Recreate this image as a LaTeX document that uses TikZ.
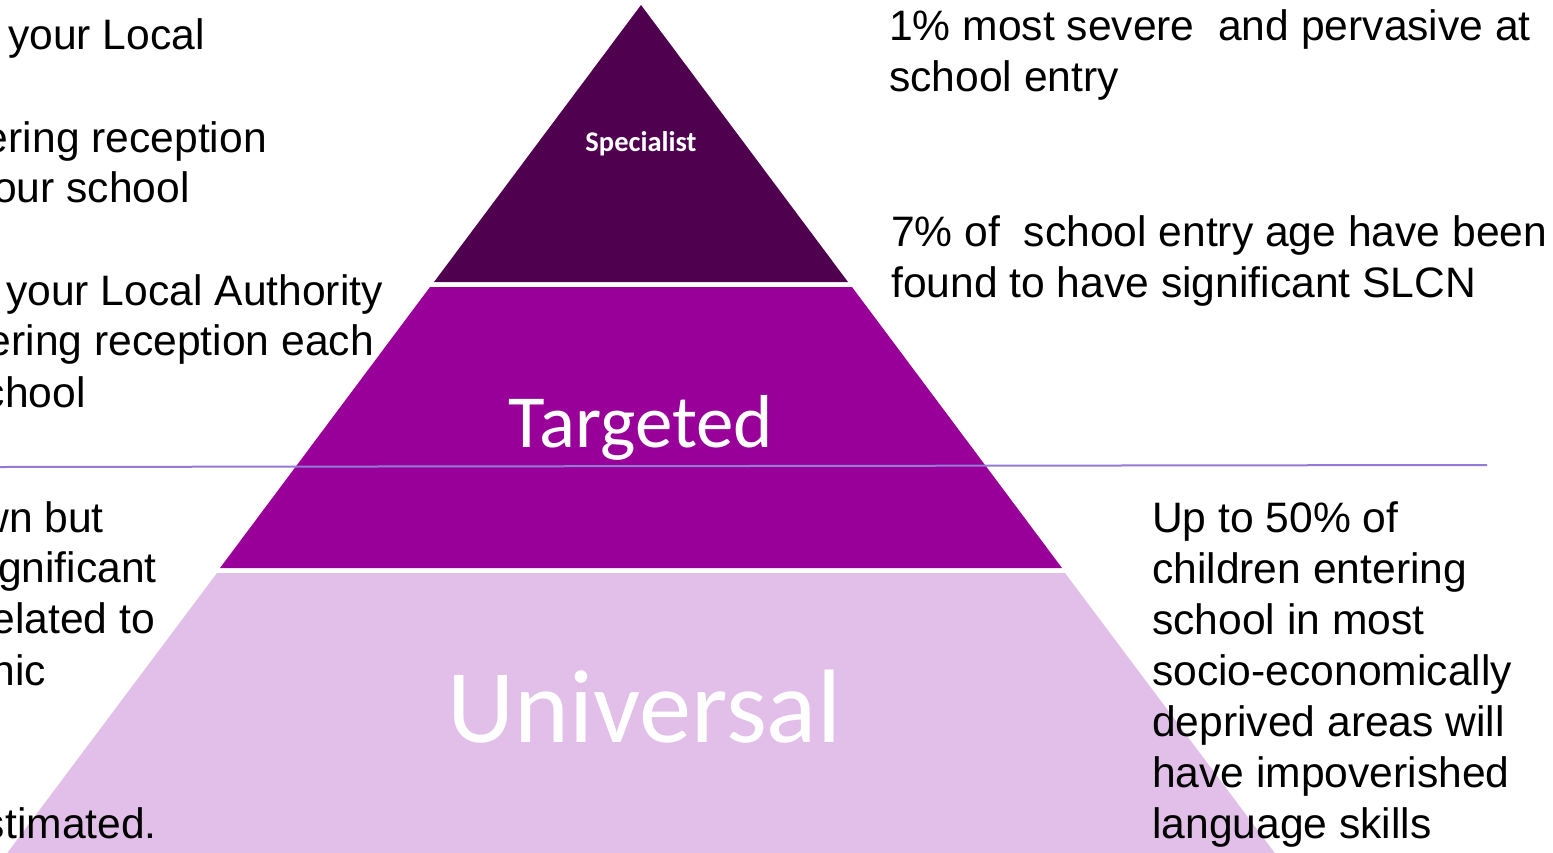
\documentclass[tikz,border=0pt]{standalone}
\usepackage{fontspec}
\setmainfont{Liberation Sans}
\newfontfamily\calibri{Carlito}
\definecolor{specialistcol}{RGB}{79,0,79}
\definecolor{targetedcol}{RGB}{153,0,153}
\definecolor{universalcol}{RGB}{225,191,232}
\definecolor{dividercol}{RGB}{147,122,214}
\begin{document}
\begin{tikzpicture}
[
x=1pt,y=-1pt,
body/.style={inner sep=0pt,font=\fontsize{42.6}{51}\selectfont,text=black},
cut/.style={body,anchor=base east},
blurb/.style={body,anchor=base west,align=left},
tier/.style={inner sep=0pt,anchor=base,text=white}
]
\useasboundingbox (0,0) rectangle (1553,852);
\clip (0,0) rectangle (1553,852);
% pyramid bands
\fill[universalcol] (217,573) -- (1065,573) -- (1280,860) -- (2,860) -- cycle;
\fill[targetedcol] (430,287) -- (852,287) -- (1062,568) -- (220,568) -- cycle;
\fill[specialistcol] (641,5) -- (848,282) -- (434,282) -- cycle;
\node[tier,font=\calibri\bfseries\fontsize{28.5}{34}\selectfont] (spec) at (641,151) {Specialist};
\node[tier,font=\calibri\fontsize{75}{90}\selectfont] (targ) at (641,447) {Targeted};
\node[tier,font=\calibri\fontsize{104.5}{125}\selectfont] (univ) at (644,742) {Universal};
% divider
\coordinate (divL) at (0,467);
\coordinate (divR) at (1487,465);
\draw[dividercol,line width=2pt] (divL) -- (divR);
% left column (cut off at the edge)
\node[cut] (l1) at (205,49) {your Local};
\node[cut] (l2) at (267,152) {ering reception};
\node[cut] (l3) at (190,202) {our school};
\node[cut] (l4) at (383,305) {your Local Authority};
\node[cut] (l5) at (374,355) {ering reception each};
\node[cut] (l6) at (86,407) {chool};
\node[cut] (l7) at (104,532) {wn but};
\node[cut] (l8) at (157,582) {gnificant};
\node[cut] (l9) at (155,633) {elated to};
\node[cut] (l10) at (46,685) {nic};
\node[cut] (l11) at (157,838) {stimated.};
% right column (base = last line)
\node[blurb] (severe) at (889,91) {1\% most severe\ \ and pervasive at\\school entry};
\node[blurb] (slcn) at (891,297) {7\% of\ \ school entry age have been\\found to have significant SLCN};
\node[blurb] (deprived) at (1152,838) {Up to 50\% of\\children entering\\school in most\\socio-economically\\deprived areas will\\have impoverished\\language skills};
\end{tikzpicture}
\end{document}
